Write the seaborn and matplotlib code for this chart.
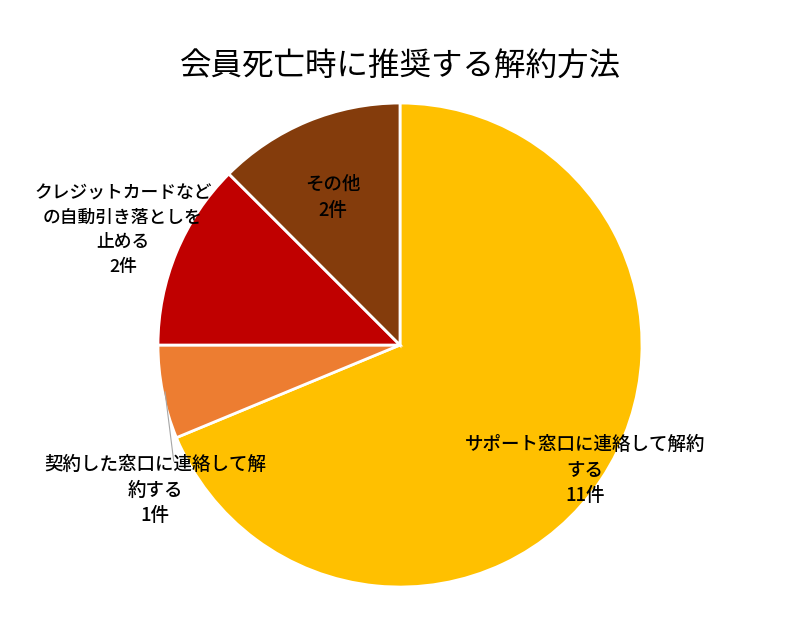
import matplotlib
matplotlib.use("Agg")
import matplotlib.pyplot as plt
import seaborn as sns
import numpy as np

sns.set_theme(style="white")
plt.rcParams['font.family'] = ['Noto Sans CJK JP', 'DejaVu Sans']

title = "会員死亡時に推奨する解約方法"
categories = ["サポート窓口に連絡して解約する", "契約した窓口に連絡して解約する",
              "クレジットカードなどの自動引き落としを止める", "その他"]
values = [11, 1, 2, 2]
label_texts = ["サポート窓口に連絡して解約\nする\n11件",
               "契約した窓口に連絡して解\n約する\n1件",
               "クレジットカードなど\nの自動引き落としを\n止める\n2件",
               "その他\n2件"]
colors = ["#FFC000", "#ED7D31", "#C00000", "#843C0C"]

fig = plt.figure(figsize=(8, 6.36), dpi=100)
ax = fig.add_axes([0.1975, 0.0770, 0.605, 0.761])
wedges, _ = ax.pie(values, colors=colors, startangle=90, counterclock=False,
                   wedgeprops=dict(edgecolor="white", linewidth=2))
ax.set_xlim(-1, 1)
ax.set_ylim(-1, 1)
ax.set_aspect("auto")

label_pos = [(0.764, -0.517), (-1.012, -0.60), (-1.145, 0.475), (-0.277, 0.61)]
sizes = [13.3, 13.3, 12.8, 13.3]
for (x, y), t, s in zip(label_pos, label_texts, sizes):
    ax.text(x, y, t, ha="center", va="center", fontsize=s, color="#000000",
            linespacing=1.45, fontweight="medium", clip_on=False)

# leader line for small slice
ang = np.deg2rad(90 - 360 * (values[0] + values[1] / 2) / sum(values))
ax.plot([np.cos(ang) * 0.99, -0.935], [np.sin(ang) * 0.99, -0.48],
        color="#A6A6A6", linewidth=0.8, clip_on=False)

fig.text(0.5, 0.897, title, ha="center", va="center", fontsize=22.7, color="#000000")
fig.savefig("out.png", dpi=100, facecolor="white")
